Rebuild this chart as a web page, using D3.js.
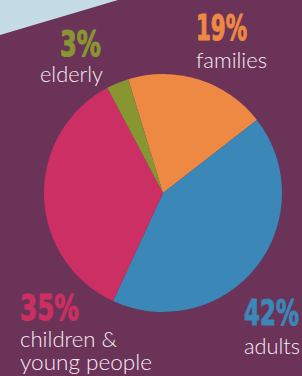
<!DOCTYPE html>
<html>
<head>
<meta charset="utf-8">
<script src="https://cdn.jsdelivr.net/npm/d3@7"></script>
<style>
  body { margin: 0; background: #6b3358; }
</style>
</head>
<body>
<div id="chart"></div>
<script>
// data
const categories = ["families", "adults", "children & young people", "elderly"];
const values = [19, 42, 35, 3];
const pctLabels = ["19%", "42%", "35%", "3%"];
const colors = ["#ee8944", "#3a87b8", "#cb2f63", "#889632"];

const width = 302, height = 376;

const svg = d3.select("#chart")
    .append("svg")
    .attr("width", width)
    .attr("height", height);

// background
svg.append("rect")
    .attr("width", width)
    .attr("height", height)
    .attr("fill", "#6b3358");

// light blue corner
svg.append("path")
    .attr("d", "M0,0 L118,0 L0,35 Z")
    .attr("fill", "#c5dbe5");

// pie
const cx = 163, cy = 193, r = 119;
const deg = Math.PI / 180;

const pie = d3.pie()
    .sort(null)
    .startAngle(-17 * deg)
    .endAngle(343 * deg);

const arc = d3.arc().innerRadius(0).outerRadius(r);

const g = svg.append("g")
    .attr("transform", `translate(${cx}, ${cy})`);

g.selectAll("path")
    .data(pie(values))
    .join("path")
    .attr("d", arc)
    .attr("fill", (d, i) => colors[i]);

// labels
const labelPos = [
    {px: 196, py: 40, pw: 51, lines: ["families"], lw: [71], lx: 196, ly: 68},
    {px: 244, py: 325, pw: 55, lines: ["adults"], lw: [56], lx: 244, ly: 354},
    {px: 20, py: 320, pw: 59, lines: ["children &", "young people"], lw: [97, 132], lx: 20, ly: 347},
    {px: 60, py: 56, pw: 41, lines: ["elderly"], lw: [63], lx: 40, ly: 82}
];

const pctFont = "'Liberation Sans Narrow', 'DejaVu Sans Condensed', sans-serif";
const txtFont = "Lato, 'Open Sans', sans-serif";

labelPos.forEach(function(p, i) {
    svg.append("text")
        .attr("x", p.px)
        .attr("y", p.py)
        .attr("font-family", pctFont)
        .attr("font-weight", "bold")
        .attr("font-size", "35px")
        .attr("fill", colors[i])
        .attr("stroke", colors[i])
        .attr("stroke-width", 1)
        .attr("textLength", p.pw)
        .attr("lengthAdjust", "spacingAndGlyphs")
        .text(pctLabels[i]);

    p.lines.forEach(function(line, j) {
        svg.append("text")
            .attr("x", p.lx)
            .attr("y", p.ly + j * 23)
            .attr("font-family", txtFont)
            .attr("font-weight", 300)
            .attr("font-size", "21.5px")
            .attr("fill", "#f5eef3")
            .attr("textLength", p.lw[j])
            .attr("lengthAdjust", "spacingAndGlyphs")
            .text(line);
    });
});
</script>
</body>
</html>
